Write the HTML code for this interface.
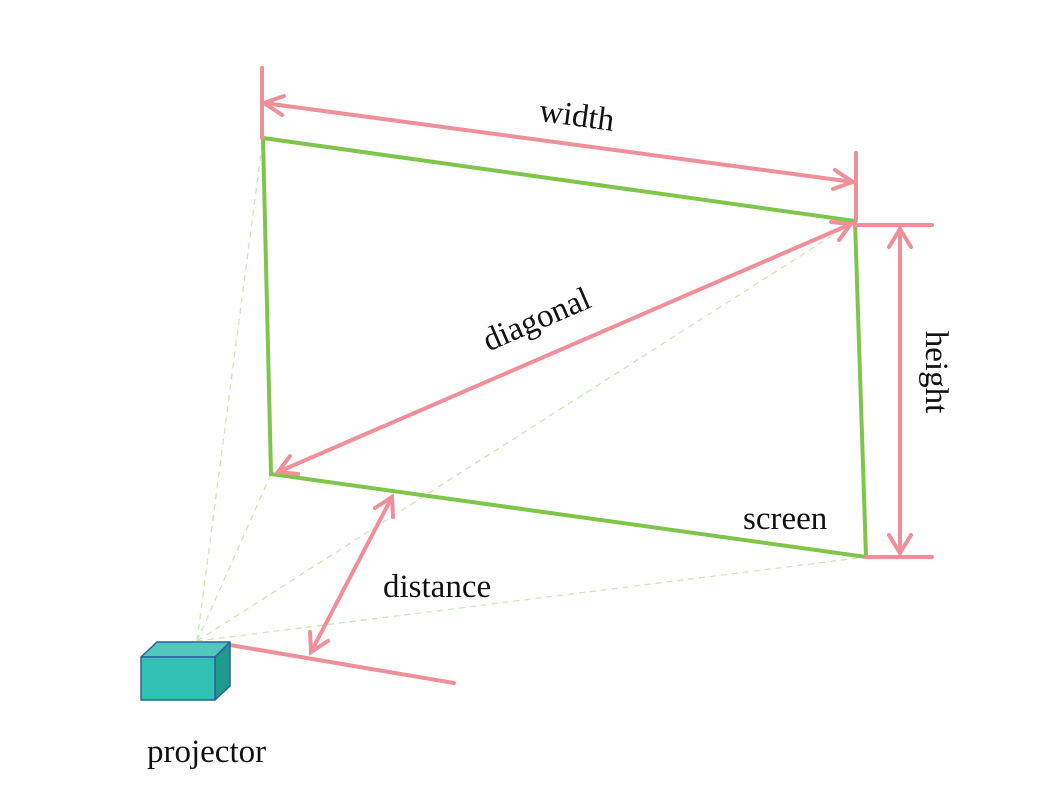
<!DOCTYPE html>
<html><head><meta charset="utf-8"><style>body{margin:0;background:#fff}</style></head><body>
<svg width="1038" height="806" viewBox="0 0 1038 806" xmlns="http://www.w3.org/2000/svg" style="display:block">
<g stroke="#cfe6b8" stroke-width="1.3" stroke-dasharray="6,5" fill="none">
<line x1="197" y1="641" x2="263" y2="138"/>
<line x1="197" y1="641" x2="855" y2="221"/>
<line x1="197" y1="641" x2="866" y2="557"/>
<line x1="197" y1="641" x2="271" y2="474"/>
</g>
<polygon points="263,138 855,221 866,557 271,474" fill="none" stroke="#7dc64a" stroke-width="4"/>
<g stroke="#ef8f9a" stroke-width="4" fill="none" stroke-linecap="round">
<line x1="262" y1="68" x2="262" y2="138"/>
<line x1="856" y1="153" x2="856" y2="221"/>
<line x1="855" y1="225" x2="932" y2="225"/>
<line x1="866" y1="557" x2="932" y2="557"/>
<line x1="264" y1="103" x2="853" y2="182"/>
<polyline points="284,96 264,103 282,115"/>
<polyline points="835,170 853,182 833,189"/>
<line x1="900" y1="229" x2="900" y2="553"/>
<polyline points="889,247 900,229 911,247"/>
<polyline points="889,535 900,553 911,535"/>
<line x1="278" y1="472" x2="851" y2="224"/>
<polyline points="290,456 278,472 298,474"/>
<polyline points="831,222 851,224 839,240"/>
<line x1="392" y1="497" x2="311" y2="652"/>
<polyline points="375,508 392,497 393,517"/>
<polyline points="310,632 311,652 328,641"/>
<line x1="230" y1="645" x2="454" y2="683"/>
</g>
<g stroke="#2a5f9e" stroke-width="1.5" stroke-linejoin="round">
<polygon points="141,657 157,642 230,642 215,657" fill="#52c7bd"/>
<polygon points="215,657 230,642 230,686 215,700" fill="#1f9a8d"/>
<rect x="141" y="657" width="74" height="43" fill="#30c1b2"/>
</g>
<g font-family="Liberation Serif, serif" font-size="33" fill="#111">
<text x="577" y="126" text-anchor="middle" transform="rotate(7.7 577 115)">width</text>
<text x="536" y="330" text-anchor="middle" transform="rotate(-23.4 536 318)">diagonal</text>
<text x="937" y="372" text-anchor="middle" transform="rotate(90 937 372)" dy="11">height</text>
<text x="743" y="529">screen</text>
<text x="383" y="597">distance</text>
<text x="147" y="762">projector</text>
</g>
</svg>
</body></html>
